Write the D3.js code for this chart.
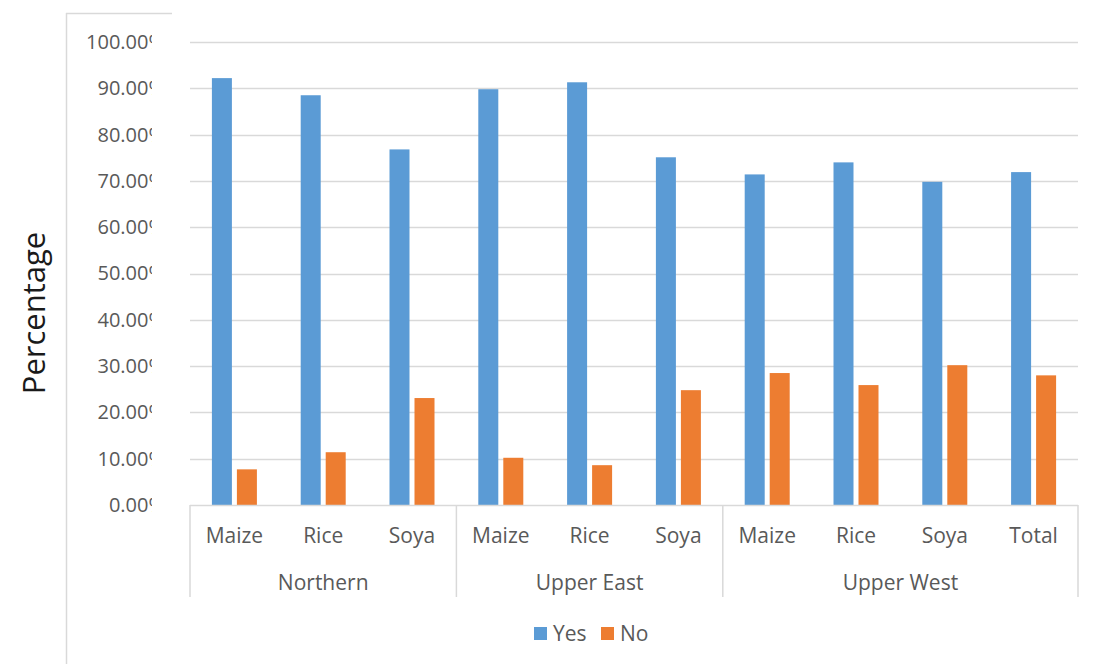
<!DOCTYPE html>
<html lang="en">
<head>
<meta charset="UTF-8">
<title>Percentage by crop and region</title>
<script src="https://d3js.org/d3.v7.min.js"></script>
<style>
    body { margin: 0; background: #fff; }
    svg { display: block; font-family: "Open Sans", "Liberation Sans", sans-serif; }
    .tick text { fill: #595959; font-size: 20px; }
    .lbl { fill: #595959; font-size: 21px; }
</style>
</head>
<body>
<div id="chart"></div>
<script>
// data
const crops = ["Maize", "Rice", "Soya", "Maize", "Rice", "Soya", "Maize", "Rice", "Soya", "Total"];
const regions = [
    { name: "Northern", from: 0, to: 3 },
    { name: "Upper East", from: 3, to: 6 },
    { name: "Upper West", from: 6, to: 10 }
];
const yesValues = [92.2, 88.5, 76.8, 89.8, 91.3, 75.1, 71.4, 74.0, 69.8, 71.9];
const noValues = [7.7, 11.4, 23.1, 10.2, 8.6, 24.8, 28.5, 25.9, 30.2, 28.0];
const series = ["Yes", "No"];
const colors = ["#5b9bd5", "#ed7d31"];
const yTicks = [0, 10, 20, 30, 40, 50, 60, 70, 80, 90, 100];

const W = 1096, H = 664;
const plotLeft = 190, plotRight = 1078, plotTop = 42, base = 505;

const svg = d3.select("#chart").append("svg")
    .attr("width", W).attr("height", H);

// outer chart frame (partly cropped)
svg.append("line").attr("x1", 66.5).attr("x2", 66.5).attr("y1", 13).attr("y2", H)
    .attr("stroke", "#d9d9d9").attr("stroke-width", 1.5);
svg.append("line").attr("x1", 66).attr("x2", 172).attr("y1", 13.5).attr("y2", 13.5)
    .attr("stroke", "#d9d9d9").attr("stroke-width", 1.5);

const x0 = d3.scaleBand().domain(d3.range(crops.length)).range([plotLeft, plotRight]);
const bw = x0.bandwidth();
const x1 = d3.scaleBand().domain(series).range([bw / 2 - 22.5, bw / 2 + 22.5]).paddingInner(0.2);
const y = d3.scaleLinear().domain([0, 100]).range([base, plotTop]);

// gridlines
svg.append("g").selectAll("line").data(yTicks.filter(d => d > 0)).join("line")
    .attr("x1", plotLeft).attr("x2", plotRight)
    .attr("y1", d => Math.round(y(d)) + 0.5).attr("y2", d => Math.round(y(d)) + 0.5)
    .attr("stroke", "#d9d9d9").attr("stroke-width", 1.5);

// y axis labels, clipped like the original (the % sign is cut off)
svg.append("clipPath").attr("id", "yclip").append("rect")
    .attr("x", 0).attr("y", 0).attr("width", 152).attr("height", H);
const yAxis = svg.append("g")
    .attr("clip-path", "url(#yclip)")
    .append("g")
    .attr("transform", `translate(${plotLeft},0)`)
    .call(d3.axisLeft(y).tickValues(yTicks).tickSize(0).tickPadding(25)
        .tickFormat(d => d.toFixed(2) + "%"));
yAxis.select(".domain").remove();
yAxis.attr("font-family", null).attr("font-size", null);

// bars
const rows = crops.map((c, i) => ({ i, vals: [yesValues[i], noValues[i]] }));
const grp = svg.append("g").selectAll("g").data(rows).join("g")
    .attr("transform", d => `translate(${x0(d.i)},0)`);
grp.selectAll("rect").data(d => series.map((s, k) => ({ s, k, v: d.vals[k] }))).join("rect")
    .attr("x", d => x1(d.s))
    .attr("width", x1.bandwidth())
    .attr("y", d => y(d.v))
    .attr("height", d => base - y(d.v))
    .attr("fill", d => colors[d.k]);

// category axis
svg.append("line").attr("x1", plotLeft).attr("x2", plotRight).attr("y1", base + 0.5).attr("y2", base + 0.5)
    .attr("stroke", "#d9d9d9").attr("stroke-width", 1.5);
const seps = [0, 3, 6, 10];
svg.append("g").selectAll("line").data(seps).join("line")
    .attr("x1", d => d === crops.length ? plotRight : x0(d))
    .attr("x2", d => d === crops.length ? plotRight : x0(d))
    .attr("y1", base).attr("y2", 597)
    .attr("stroke", "#d9d9d9").attr("stroke-width", 1.5);

svg.append("g").selectAll("text").data(crops).join("text")
    .attr("class", "lbl")
    .attr("x", (d, i) => x0(i) + bw / 2)
    .attr("y", 543)
    .attr("text-anchor", "middle")
    .text(d => d);

svg.append("g").selectAll("text").data(regions).join("text")
    .attr("class", "lbl")
    .attr("x", d => (x0(d.from) + (d.to === crops.length ? plotRight : x0(d.to))) / 2)
    .attr("y", 590)
    .attr("text-anchor", "middle")
    .text(d => d.name);

// y title
svg.append("text")
    .attr("transform", "translate(45,313) rotate(-90)")
    .attr("text-anchor", "middle")
    .attr("font-size", 31)
    .attr("fill", "#1a1a1a")
    .text("Percentage");

// legend
const legX = [534, 601];
const leg = svg.append("g").selectAll("g").data(series).join("g")
    .attr("transform", (d, i) => `translate(${legX[i]},627)`);
leg.append("rect").attr("width", 13).attr("height", 13).attr("fill", (d, i) => colors[i]);
leg.append("text").attr("class", "lbl").attr("x", 19).attr("y", 14).text(d => d);
</script>
</body>
</html>
